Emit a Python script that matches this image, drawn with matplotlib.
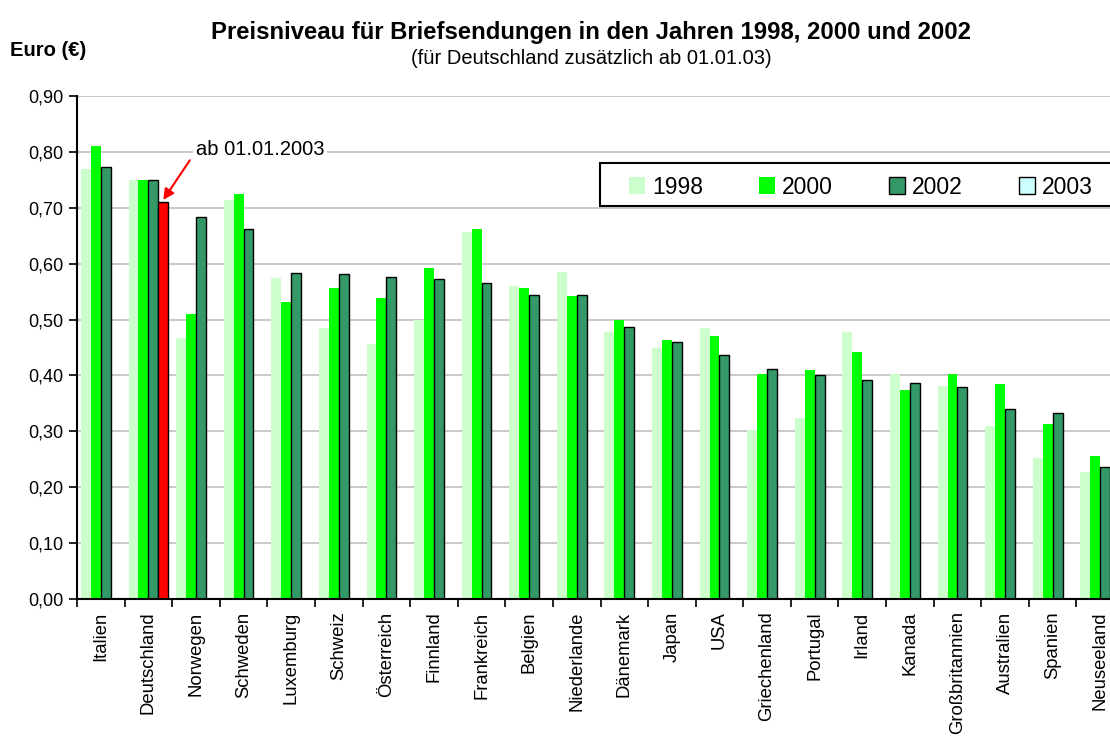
"""
Preisniveau fuer Briefsendungen 1998, 2000, 2002 (und 2003 fuer Deutschland)
"""

import numpy as np
import matplotlib
matplotlib.use('Agg')
import matplotlib.pyplot as plt
from matplotlib.patches import Patch, Rectangle

plt.rcParams['font.family'] = ['Liberation Sans', 'DejaVu Sans']

countries = ['Italien', 'Deutschland', 'Norwegen', 'Schweden', 'Luxemburg',
             'Schweiz', 'Österreich', 'Finnland', 'Frankreich', 'Belgien',
             'Niederlande', 'Dänemark', 'Japan', 'USA', 'Griechenland',
             'Portugal', 'Irland', 'Kanada', 'Großbritannien', 'Australien',
             'Spanien', 'Neuseeland']

price_1998 = [0.770, 0.750, 0.467, 0.714, 0.574, 0.485, 0.456, 0.499, 0.657,
              0.560, 0.585, 0.478, 0.449, 0.485, 0.302, 0.324, 0.478, 0.403,
              0.381, 0.309, 0.252, 0.227]
price_2000 = [0.810, 0.750, 0.510, 0.725, 0.531, 0.556, 0.538, 0.592, 0.662,
              0.556, 0.542, 0.499, 0.463, 0.470, 0.403, 0.410, 0.442, 0.374,
              0.403, 0.385, 0.313, 0.256]
price_2002 = [0.773, 0.750, 0.684, 0.662, 0.584, 0.581, 0.577, 0.573, 0.566,
              0.544, 0.544, 0.487, 0.459, 0.437, 0.412, 0.401, 0.391, 0.387,
              0.380, 0.340, 0.333, 0.237]
# only Germany has a 2003 value
price_2003 = {'Deutschland': 0.71}

years = ['1998', '2000', '2002', '2003']
colors = ['#CCFFCC', '#00FF00', '#339966', '#CCFFFF']
y_ticks = [0.0, 0.1, 0.2, 0.3, 0.4, 0.5, 0.6, 0.7, 0.8, 0.9]

W, H = 1110, 736
fig = plt.figure(figsize=(W / 100, H / 100), dpi=100)
ax = fig.add_axes([77 / W, 137 / H, 1047 / W, 503 / H])

x = np.arange(len(countries))
bw = 0.208

ax.bar(x - 1.5 * bw, price_1998, bw, color=colors[0], zorder=2)
ax.bar(x - 0.5 * bw, price_2000, bw, color=colors[1], zorder=2)
ax.bar(x + 0.5 * bw, price_2002, bw, color=colors[2],
       edgecolor='black', linewidth=1.0, zorder=2)

de = countries.index('Deutschland')
ax.bar(de + 1.5 * bw, price_2003['Deutschland'], bw, color='#FF0000',
       edgecolor='black', linewidth=1.0, zorder=2)

ax.set_xlim(-0.5, len(countries) - 0.5)
ax.set_ylim(0, 0.9)
ax.set_yticks(y_ticks)
ax.set_yticklabels([f'{v:.2f}'.replace('.', ',') for v in y_ticks])
ax.yaxis.grid(True, color='#C0C0C0', linewidth=1.2, zorder=0)
ax.set_axisbelow(True)

ax.set_xticks(x)
ax.set_xticklabels(countries, rotation=90, va='top', ha='center')
ax.set_xticks(np.arange(len(countries)) - 0.5, minor=True)
ax.tick_params(axis='x', which='major', length=0, pad=9, labelsize=13.3)
ax.tick_params(axis='x', which='minor', length=6, width=1.2, direction='out')
ax.tick_params(axis='y', length=6, width=1.2, pad=4, labelsize=13)

for side in ['top', 'right']:
    ax.spines[side].set_visible(False)
for side in ['left', 'bottom']:
    ax.spines[side].set_linewidth(1.5)

# annotation for the 2003 German price
ax.annotate('', xy=(de + 1.5 * bw, price_2003['Deutschland'] + 0.004),
            xytext=(1.87, 0.785),
            arrowprops=dict(arrowstyle='-|>', color='red', lw=1.5,
                            mutation_scale=16, shrinkA=0, shrinkB=0))
ax.text(2.0, 0.805, 'ab 01.01.2003', fontsize=14.5, va='center', ha='left',
        bbox=dict(facecolor='white', edgecolor='none', pad=2), zorder=3)

# legend with its own box, like the original
fig.patches.append(Rectangle((600 / W, 1 - 206 / H), 560 / W, 43 / H,
                             transform=fig.transFigure, facecolor='white',
                             edgecolor='black', linewidth=1.5, zorder=3))
handles = [Patch(facecolor=colors[0], edgecolor='none'),
           Patch(facecolor=colors[1], edgecolor='none'),
           Patch(facecolor=colors[2], edgecolor='black', linewidth=1.0),
           Patch(facecolor=colors[3], edgecolor='black', linewidth=1.0)]
fig.legend(handles, years, ncol=4, frameon=False, fontsize=16.5,
           loc='center left', bbox_to_anchor=(629 / W, 1 - 187 / H),
           handlelength=0.7, handleheight=0.7, handletextpad=0.3,
           columnspacing=2.45, borderpad=0, borderaxespad=0)

fig.text(591 / W, 1 - 33 / H,
         'Preisniveau für Briefsendungen in den Jahren 1998, 2000 und 2002',
         ha='center', va='center', fontsize=17.2, fontweight='bold')
fig.text(591 / W, 1 - 58 / H, '(für Deutschland zusätzlich ab 01.01.03)',
         ha='center', va='center', fontsize=14.5)
fig.text(10 / W, 1 - 51 / H, 'Euro (€)', ha='left', va='center',
         fontsize=14.5, fontweight='bold')

fig.savefig('out.png', dpi=100)
